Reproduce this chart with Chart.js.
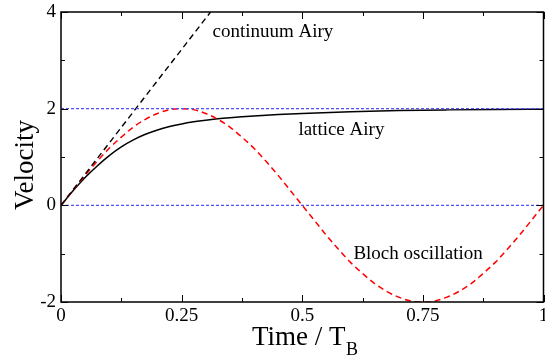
<!DOCTYPE html>
<html lang="en">
<head>
    <meta charset="UTF-8">
    <title>Velocity vs Time</title>
    <script src="https://cdn.jsdelivr.net/npm/chart.js@4.4.1/dist/chart.umd.min.js"></script>
    <style>
        body { margin: 0; background: #fff; }
        #chart { display: block; }
    </style>
</head>
<body>
    <canvas id="chart" width="545" height="360"></canvas>
    <script>
        // data
        const blochTime = [0, 0.025, 0.05, 0.075, 0.1, 0.125, 0.15, 0.175, 0.2, 0.225,
            0.25, 0.275, 0.3, 0.325, 0.35, 0.375, 0.4, 0.425, 0.45, 0.475,
            0.5, 0.525, 0.55, 0.575, 0.6, 0.625, 0.65, 0.675, 0.7, 0.725,
            0.75, 0.775, 0.8, 0.825, 0.85, 0.875, 0.9, 0.925, 0.95, 0.975, 1];
        const blochVelocity = [0, 0.31, 0.62, 0.91, 1.18, 1.41, 1.62, 1.78, 1.90, 1.98,
            2.00, 1.98, 1.90, 1.78, 1.62, 1.41, 1.18, 0.91, 0.62, 0.31,
            0, -0.31, -0.62, -0.91, -1.18, -1.41, -1.62, -1.78, -1.90, -1.98,
            -2.00, -1.98, -1.90, -1.78, -1.62, -1.41, -1.18, -0.91, -0.62, -0.31, 0];

        const latticeTime = [0, 0.025, 0.05, 0.075, 0.1, 0.125, 0.15, 0.175, 0.2, 0.225,
            0.25, 0.275, 0.3, 0.325, 0.35, 0.375, 0.4, 0.45, 0.5, 0.6, 0.7, 0.8, 0.9, 1];
        const latticeVelocity = [0, 0.30, 0.575, 0.815, 1.03, 1.21, 1.355, 1.47, 1.56, 1.63,
            1.685, 1.728, 1.762, 1.79, 1.813, 1.833, 1.85, 1.878, 1.90, 1.935, 1.96, 1.975, 1.985, 1.99];

        const continuumTime = [0, 0.31];
        const continuumVelocity = [0, 4];

        const refLevels = [2, 0];

        const xMajor = [0, 0.25, 0.5, 0.75, 1];
        const xMinor = [0.125, 0.375, 0.625, 0.875];
        const yMajor = [-2, 0, 2, 4];
        const yMinor = [-1, 1, 3];

        const serif = "'Liberation Serif', 'Times New Roman', serif";

        function pts(xs, ys) {
            return xs.map((x, i) => ({ x: x, y: ys[i] }));
        }

        // frame with inward ticks on all four sides
        const framePlugin = {
            id: 'frame',
            afterDatasetsDraw(chart) {
                const { ctx, chartArea: a, scales: { x, y } } = chart;
                ctx.save();
                ctx.strokeStyle = '#000';
                ctx.lineWidth = 1;
                const seg = (x1, y1, x2, y2) => {
                    ctx.beginPath(); ctx.moveTo(x1, y1); ctx.lineTo(x2, y2); ctx.stroke();
                };
                const xt = (v, len) => {
                    const p = Math.round(x.getPixelForValue(v)) + 0.5;
                    seg(p, a.bottom, p, a.bottom - len);
                    seg(p, a.top, p, a.top + len);
                };
                const yt = (v, len) => {
                    const p = Math.round(y.getPixelForValue(v)) + 0.5;
                    seg(a.left, p, a.left + len, p);
                    seg(a.right, p, a.right - len, p);
                };
                xMajor.forEach(v => xt(v, 7));
                xMinor.forEach(v => xt(v, 4));
                yMajor.forEach(v => yt(v, 7));
                yMinor.forEach(v => yt(v, 4));
                ctx.lineWidth = 1.5;
                ctx.strokeRect(a.left, a.top, a.right - a.left, a.bottom - a.top);
                ctx.restore();
            }
        };

        // curve labels and axis titles
        const textPlugin = {
            id: 'texts',
            afterDraw(chart) {
                const { ctx, scales: { x, y } } = chart;
                ctx.save();
                ctx.fillStyle = '#000';
                ctx.textBaseline = 'alphabetic';
                ctx.textAlign = 'left';
                ctx.font = '19px ' + serif;
                ctx.fillText('continuum Airy', x.getPixelForValue(0.314), y.getPixelForValue(3.49));
                ctx.fillText('lattice Airy', x.getPixelForValue(0.492), y.getPixelForValue(1.45));
                ctx.fillText('Bloch oscillation', x.getPixelForValue(0.606), y.getPixelForValue(-1.12));

                ctx.font = '27px ' + serif;
                ctx.fillText('Time / T', 252, 345);
                ctx.font = '18px ' + serif;
                ctx.fillText('B', 346, 355);

                ctx.translate(33, 165);
                ctx.rotate(-Math.PI / 2);
                ctx.textAlign = 'center';
                ctx.font = '27px ' + serif;
                ctx.fillText('Velocity', 0, 0);
                ctx.restore();
            }
        };

        const ctx = document.getElementById('chart').getContext('2d');

        const chart = new Chart(ctx, {
            type: 'scatter',
            data: {
                datasets: [
                    {
                        label: 'level 2',
                        data: pts([0, 1], [refLevels[0], refLevels[0]]),
                        showLine: true,
                        borderColor: '#5050f5',
                        borderWidth: 1.2,
                        borderDash: [3, 2],
                        pointRadius: 0
                    },
                    {
                        label: 'level 0',
                        data: pts([0, 1], [refLevels[1], refLevels[1]]),
                        showLine: true,
                        borderColor: '#5050f5',
                        borderWidth: 1.2,
                        borderDash: [3, 2],
                        pointRadius: 0
                    },
                    {
                        label: 'continuum Airy',
                        data: pts(continuumTime, continuumVelocity),
                        showLine: true,
                        borderColor: '#000',
                        borderWidth: 1.4,
                        borderDash: [6, 4],
                        pointRadius: 0
                    },
                    {
                        label: 'Bloch oscillation',
                        data: pts(blochTime, blochVelocity),
                        showLine: true,
                        borderColor: '#ff0000',
                        borderWidth: 1.5,
                        borderDash: [6, 4],
                        cubicInterpolationMode: 'monotone',
                        pointRadius: 0
                    },
                    {
                        label: 'lattice Airy',
                        data: pts(latticeTime, latticeVelocity),
                        showLine: true,
                        borderColor: '#000',
                        borderWidth: 1.5,
                        cubicInterpolationMode: 'monotone',
                        pointRadius: 0
                    }
                ]
            },
            options: {
                responsive: false,
                animation: false,
                layout: {
                    autoPadding: false,
                    padding: { top: 12, right: 1.5, left: 0, bottom: 0 }
                },
                plugins: {
                    legend: { display: false },
                    tooltip: { enabled: false }
                },
                scales: {
                    x: {
                        type: 'linear',
                        min: 0,
                        max: 1,
                        afterFit: s => { s.height = 58; s.paddingLeft = 0; s.paddingRight = 0; },
                        afterBuildTicks: s => { s.ticks = xMajor.map(v => ({ value: v })); },
                        grid: { display: false, drawTicks: false },
                        border: { display: false },
                        ticks: {
                            color: '#000',
                            padding: 3,
                            maxRotation: 0,
                            font: { family: serif, size: 19 },
                            callback: v => String(v)
                        }
                    },
                    y: {
                        type: 'linear',
                        min: -2,
                        max: 4,
                        afterFit: s => { s.width = 61; s.paddingTop = 0; s.paddingBottom = 0; },
                        afterBuildTicks: s => { s.ticks = yMajor.map(v => ({ value: v })); },
                        grid: { display: false, drawTicks: false },
                        border: { display: false },
                        ticks: {
                            color: '#000',
                            padding: 5,
                            font: { family: serif, size: 19 },
                            callback: v => String(v)
                        }
                    }
                }
            },
            plugins: [framePlugin, textPlugin]
        });
    </script>
</body>
</html>
